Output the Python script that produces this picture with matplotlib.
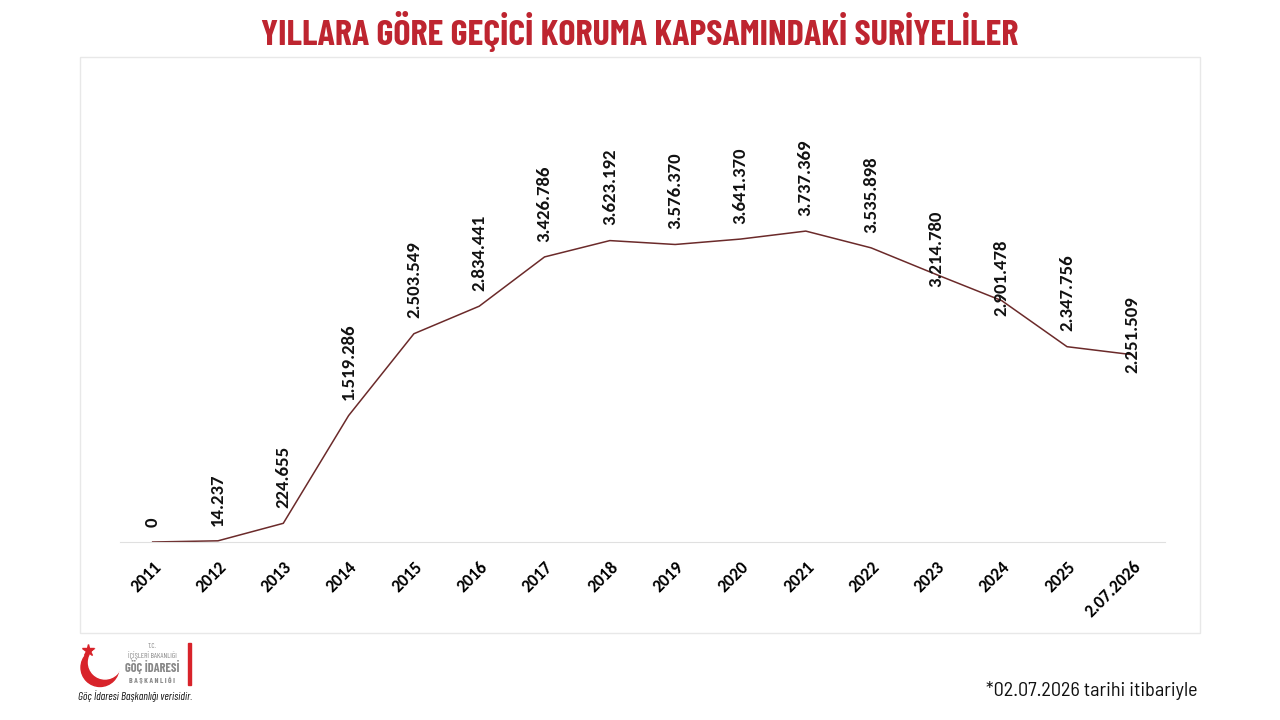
import matplotlib.pyplot as plt
from matplotlib.patches import Rectangle, Circle
import matplotlib.font_manager as fm

names = {f.name for f in fm.fontManager.ttflist}

def pick(*fams):
    for f in fams:
        if f in names:
            return f
    return 'DejaVu Sans'

title_font = pick('Barlow Condensed', 'Roboto')
body_font = pick('Carlito', 'Roboto')
note_font = pick('Barlow Semi Condensed', 'Carlito', 'Roboto')

years = ["2011", "2012", "2013", "2014", "2015", "2016", "2017", "2018",
         "2019", "2020", "2021", "2022", "2023", "2024", "2025", "2.07.2026"]
people = [0, 14237, 224655, 1519286, 2503549, 2834441, 3426786, 3623192,
          3576370, 3641370, 3737369, 3535898, 3214780, 2901478, 2347756, 2251509]
labels = ["0", "14.237", "224.655", "1.519.286", "2.503.549", "2.834.441", "3.426.786",
          "3.623.192", "3.576.370", "3.641.370", "3.737.369", "3.535.898", "3.214.780",
          "2.901.478", "2.347.756", "2.251.509"]

W, H = 1280, 720
fig = plt.figure(figsize=(12.8, 7.2), dpi=100)
fig.patch.set_facecolor('white')

# outer chart frame
fig.patches.append(Rectangle((80 / W, 1 - 633 / H), 1120 / W, 576 / H, transform=fig.transFigure,
                             fill=False, edgecolor='#e8e8e8', linewidth=1))

ax = fig.add_axes([120 / W, 1 - 542 / H, 1045 / W, 485 / H])
x = range(len(years))
ax.plot(x, people, color='#6b2a2a', linewidth=1.1)
ax.set_xlim(-0.5, len(years) - 0.5)
ax.set_ylim(0, 5830000)
for s in ['top', 'right', 'left']:
    ax.spines[s].set_visible(False)
ax.spines['bottom'].set_color('#e0e0e0')
ax.set_yticks([])
ax.set_xticks(list(x))
ax.set_xticklabels(years, rotation=45, ha='right', va='top', rotation_mode='anchor',
                   fontsize=12.5, fontweight='bold', family=body_font)
ax.tick_params(axis='x', length=0, pad=12)

# label nudges (points) where the original labels sit over the line
nudge = {12: -20, 13: -22, 15: -24}
for i, (v, t) in enumerate(zip(people, labels)):
    ax.annotate(t, (i, v), xytext=(0, 11 + nudge.get(i, 0)), textcoords='offset points',
                rotation=90, ha='center', va='bottom', fontsize=13.5, fontweight='bold',
                family=body_font, color='#111111')

fig.text(640 / W, 1 - 31 / H, "YILLARA GÖRE GEÇİCİ KORUMA KAPSAMINDAKİ SURİYELİLER",
         ha='center', va='center', fontsize=26, fontweight='bold', color='#be2530', family=title_font)

fig.text(1197 / W, 1 - 690 / H, "*02.07.2026 tarihi itibariyle", ha='right', va='center',
         fontsize=14.5, family=note_font, color='#111111')

# logo
lax = fig.add_axes([75 / W, 1 - 690 / H, 50 / W, 50 / H])
lax.set_xlim(0, 1)
lax.set_ylim(0, 1)
lax.set_aspect('equal')
lax.axis('off')
lax.add_patch(Circle((0.5, 0.45), 0.38, color='#d8232a'))
lax.add_patch(Circle((0.6, 0.55), 0.33, color='white'))
lax.plot([0.25], [0.8], marker='*', markersize=9, color='#d8232a')
fig.text(152 / W, 1 - 647 / H, "T.C.", ha='center', va='center', fontsize=5, color='#888888', family=title_font)
fig.text(152 / W, 1 - 656 / H, "İÇİŞLERİ BAKANLIĞI", ha='center', va='center', fontsize=5.5,
         color='#888888', family=title_font)
fig.text(152 / W, 1 - 667 / H, "GÖÇ İDARESİ", ha='center', va='center', fontsize=9, fontweight='bold',
         color='#888888', family=title_font)
fig.text(152 / W, 1 - 680 / H, "B A Ş K A N L I Ğ I", ha='center', va='center', fontsize=5.5,
         fontweight='bold', color='#888888', family=title_font)
fig.patches.append(Rectangle((188 / W, 1 - 685 / H), 3 / W, 42 / H, transform=fig.transFigure,
                             color='#d8232a'))
fig.text(78 / W, 1 - 696 / H, "Göç İdaresi Başkanlığı verisidir.", ha='left', va='center',
         fontsize=8, style='italic', color='#111111', family=title_font)

fig.savefig("out.png", dpi=100, facecolor='white')
